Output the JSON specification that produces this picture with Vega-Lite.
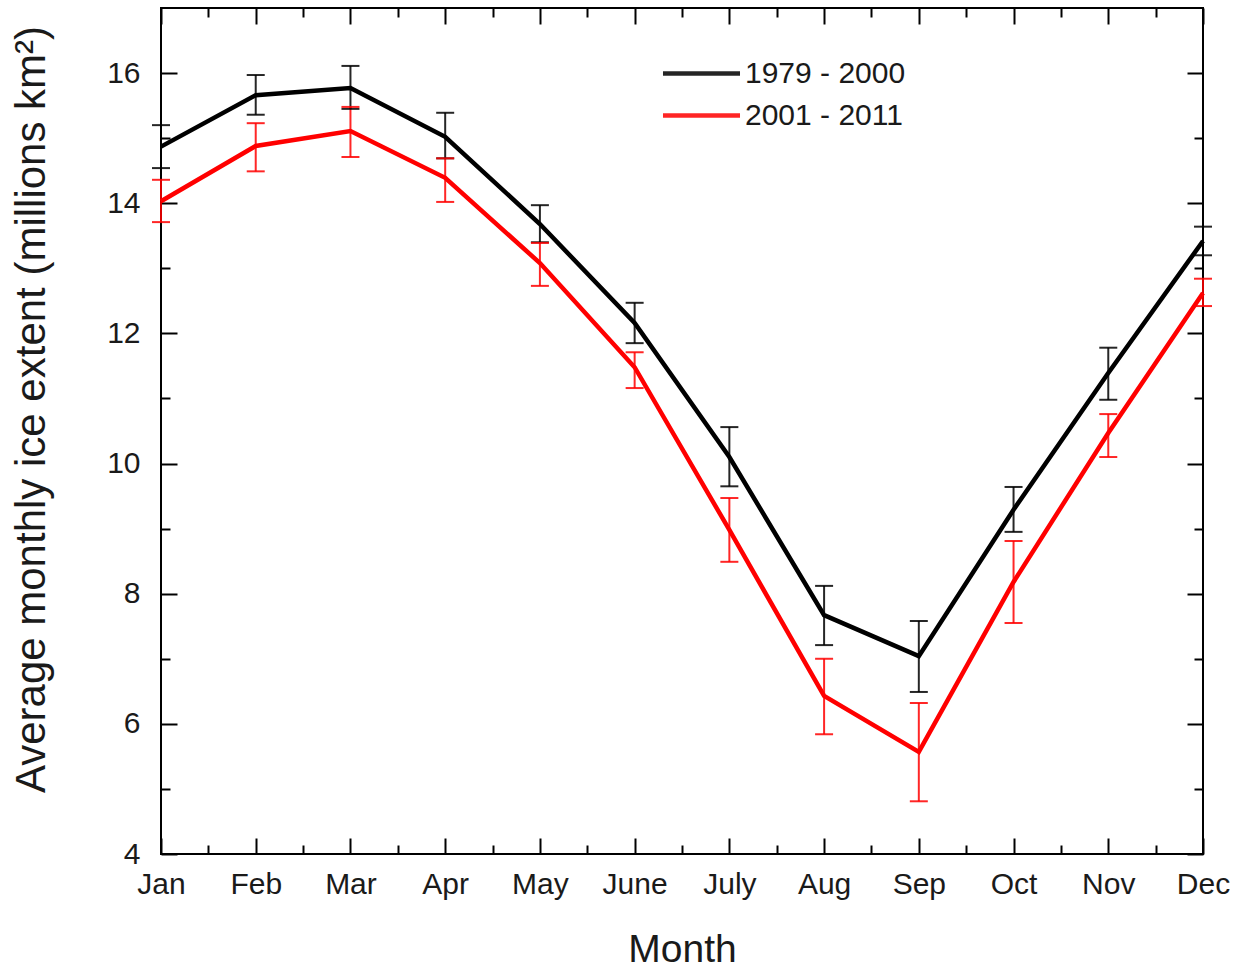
{
  "$schema": "https://vega.github.io/schema/vega-lite/v6.json",
  "width": 1042,
  "height": 846,
  "autosize": {"type": "none"},
  "padding": {"left": 161, "top": 8, "right": 44, "bottom": 114},
  "background": "white",
  "config": {
    "view": {"stroke": "#000000", "strokeWidth": 2},
    "font": "Liberation Sans",
    "axis": {"grid": false, "domain": false, "tickColor": "#000000", "tickWidth": 2, "labelColor": "#1a1a1a", "titleColor": "#1a1a1a", "labelFont": "Liberation Sans", "titleFont": "Liberation Sans", "titleFontWeight": "normal"}
  },
  "data": {"values": [
    {"month": 1, "period": "1979 - 2000", "value": 14.87, "lo": 14.54, "hi": 15.2},
    {"month": 2, "period": "1979 - 2000", "value": 15.66, "lo": 15.36, "hi": 15.97},
    {"month": 3, "period": "1979 - 2000", "value": 15.77, "lo": 15.45, "hi": 16.11},
    {"month": 4, "period": "1979 - 2000", "value": 15.02, "lo": 14.69, "hi": 15.39},
    {"month": 5, "period": "1979 - 2000", "value": 13.68, "lo": 13.4, "hi": 13.97},
    {"month": 6, "period": "1979 - 2000", "value": 12.16, "lo": 11.85, "hi": 12.47},
    {"month": 7, "period": "1979 - 2000", "value": 10.1, "lo": 9.65, "hi": 10.56},
    {"month": 8, "period": "1979 - 2000", "value": 7.67, "lo": 7.21, "hi": 8.12},
    {"month": 9, "period": "1979 - 2000", "value": 7.04, "lo": 6.49, "hi": 7.58},
    {"month": 10, "period": "1979 - 2000", "value": 9.29, "lo": 8.95, "hi": 9.64},
    {"month": 11, "period": "1979 - 2000", "value": 11.39, "lo": 10.98, "hi": 11.78},
    {"month": 12, "period": "1979 - 2000", "value": 13.42, "lo": 13.2, "hi": 13.64},
    {"month": 1, "period": "2001 - 2011", "value": 14.03, "lo": 13.71, "hi": 14.36},
    {"month": 2, "period": "2001 - 2011", "value": 14.88, "lo": 14.49, "hi": 15.23},
    {"month": 3, "period": "2001 - 2011", "value": 15.11, "lo": 14.71, "hi": 15.48},
    {"month": 4, "period": "2001 - 2011", "value": 14.39, "lo": 14.02, "hi": 14.69},
    {"month": 5, "period": "2001 - 2011", "value": 13.08, "lo": 12.73, "hi": 13.39},
    {"month": 6, "period": "2001 - 2011", "value": 11.48, "lo": 11.16, "hi": 11.71},
    {"month": 7, "period": "2001 - 2011", "value": 8.98, "lo": 8.49, "hi": 9.47},
    {"month": 8, "period": "2001 - 2011", "value": 6.43, "lo": 5.84, "hi": 7.0},
    {"month": 9, "period": "2001 - 2011", "value": 5.57, "lo": 4.81, "hi": 6.32},
    {"month": 10, "period": "2001 - 2011", "value": 8.18, "lo": 7.55, "hi": 8.81},
    {"month": 11, "period": "2001 - 2011", "value": 10.47, "lo": 10.1, "hi": 10.76},
    {"month": 12, "period": "2001 - 2011", "value": 12.62, "lo": 12.42, "hi": 12.84}
  ]},
  "resolve": {"axis": {"x": "independent", "y": "independent"}},
  "layer": [
    {
      "mark": {"type": "line", "strokeWidth": 4.5, "strokeJoin": "miter"},
      "encoding": {
        "x": {"field": "month", "type": "quantitative", "scale": {"domain": [1, 12], "nice": false, "zero": false},
          "axis": {"orient": "bottom", "values": [1, 2, 3, 4, 5, 6, 7, 8, 9, 10, 11, 12], "tickSize": -16,
            "labelExpr": "['Jan','Feb','Mar','Apr','May','June','July','Aug','Sep','Oct','Nov','Dec'][datum.value - 1]",
            "labelFontSize": 30, "labelPadding": 31, "labelBaseline": "top", "labelFlush": false, "labelOverlap": false,
            "title": "Month", "titleFontSize": 39, "titleBaseline": "alphabetic", "titleY": 107}},
        "y": {"field": "value", "type": "quantitative", "scale": {"domain": [4, 17], "nice": false, "zero": false},
          "axis": {"orient": "left", "values": [4, 6, 8, 10, 12, 14, 16], "tickSize": -16,
            "labelFontSize": 30, "labelPadding": 37, "labelFlush": false, "labelOverlap": false,
            "title": "Average monthly ice extent (millions km²)", "titleFontSize": 42, "titleBaseline": "alphabetic", "titleAngle": -90, "titleX": -117, "titleY": 401, "titleAlign": "center"}},
        "color": {"field": "period", "type": "nominal", "scale": {"domain": ["1979 - 2000", "2001 - 2011"], "range": ["#000000", "#ff0000"]},
          "legend": {"orient": "none", "legendX": 525, "legendY": 50, "title": null, "symbolType": "M-3,0H3", "symbolSize": 659, "symbolStrokeWidth": 4.5, "labelFontSize": 30, "labelFont": "Liberation Sans", "labelColor": "#1a1a1a", "labelOffset": 28, "labelLimit": 400, "rowPadding": 11, "padding": 0}}
      }
    },
    {
      "mark": {"type": "rule", "strokeWidth": 2, "opacity": 0.85},
      "encoding": {
        "x": {"field": "month", "type": "quantitative",
          "axis": {"orient": "bottom", "values": [1.5, 2.5, 3.5, 4.5, 5.5, 6.5, 7.5, 8.5, 9.5, 10.5, 11.5], "tickSize": -9, "labels": false, "title": null}},
        "y": {"field": "lo", "type": "quantitative",
          "axis": {"orient": "left", "values": [5, 7, 9, 11, 13, 15], "tickSize": -9, "labels": false, "title": null}},
        "y2": {"field": "hi"},
        "color": {"field": "period", "type": "nominal"}
      }
    },
    {
      "mark": {"type": "tick", "orient": "horizontal", "size": 18, "thickness": 2, "opacity": 0.85},
      "encoding": {
        "x": {"field": "month", "type": "quantitative",
          "axis": {"orient": "top", "values": [1, 2, 3, 4, 5, 6, 7, 8, 9, 10, 11, 12], "tickSize": -16, "labels": false, "title": null}},
        "y": {"field": "lo", "type": "quantitative",
          "axis": {"orient": "right", "values": [4, 6, 8, 10, 12, 14, 16], "tickSize": -16, "labels": false, "title": null}},
        "color": {"field": "period", "type": "nominal"}
      }
    },
    {
      "mark": {"type": "tick", "orient": "horizontal", "size": 18, "thickness": 2, "opacity": 0.85},
      "encoding": {
        "x": {"field": "month", "type": "quantitative",
          "axis": {"orient": "top", "values": [1.5, 2.5, 3.5, 4.5, 5.5, 6.5, 7.5, 8.5, 9.5, 10.5, 11.5], "tickSize": -9, "labels": false, "title": null}},
        "y": {"field": "hi", "type": "quantitative",
          "axis": {"orient": "right", "values": [5, 7, 9, 11, 13, 15], "tickSize": -9, "labels": false, "title": null}},
        "color": {"field": "period", "type": "nominal"}
      }
    }
  ]
}
